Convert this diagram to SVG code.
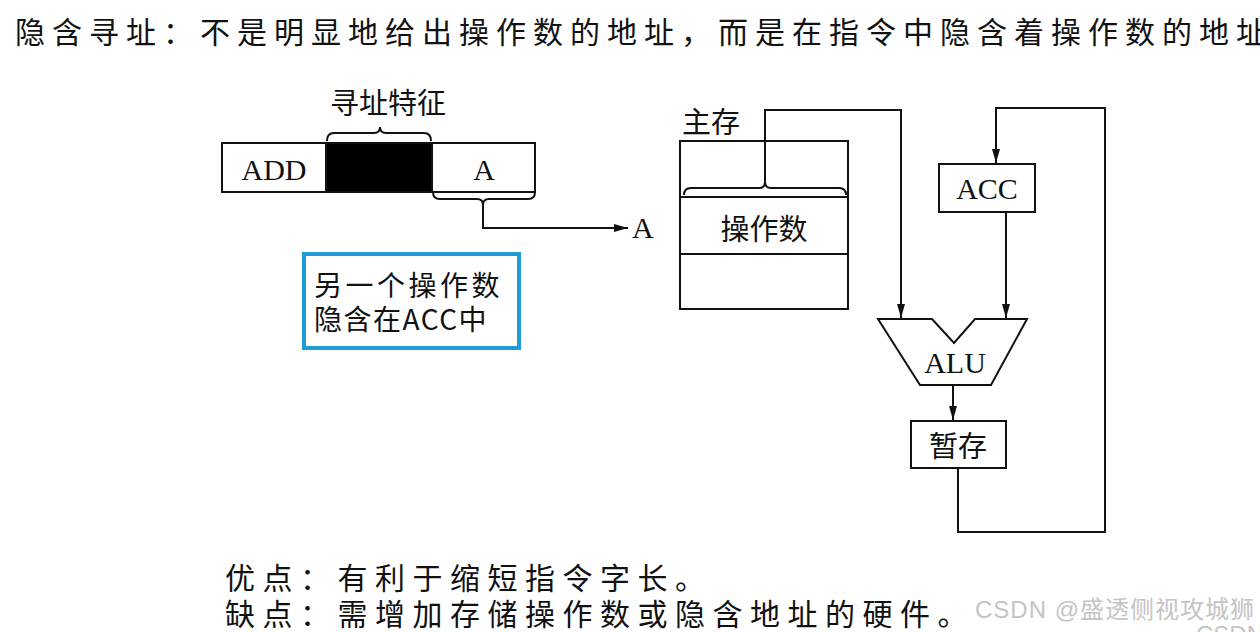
<svg xmlns="http://www.w3.org/2000/svg" width="1260" height="632" viewBox="0 0 1260 632">
<style>
.cn{font-family:"Noto Sans CJK SC","Noto Sans",sans-serif;fill:#111}
.big{font-size:30px;letter-spacing:7.5px}
.lbl{font-size:29px}
.en{font-family:"Liberation Serif",serif;font-size:30px;fill:#111}
.box{fill:#fff;stroke:#111;stroke-width:2}
.ln{fill:none;stroke:#111;stroke-width:2}
.wm{font-family:"Liberation Sans","Noto Sans CJK SC",sans-serif;font-size:24px;fill:#c4c4c4}
</style>
<defs>
<marker id="ah" markerWidth="14" markerHeight="8" refX="14" refY="4" orient="auto" markerUnits="userSpaceOnUse">
<path d="M0,0 L14,4 L0,8 Z" fill="#111"/>
</marker>
</defs>
<rect width="1260" height="632" fill="#fff"/>
<text class="cn big" x="15" y="43" style="letter-spacing:7px">隐含寻址：不是明显地给出操作数的地址，而是在指令中隐含着操作数的地址</text>

<g id="instr">
<rect class="box" x="222" y="143" width="104" height="49"/>
<rect x="326" y="143" width="106" height="49" fill="#000" stroke="#111" stroke-width="2"/>
<rect class="box" x="432" y="143" width="103" height="49"/>
<text class="en" x="274" y="180" text-anchor="middle">ADD</text>
<text class="en" x="484" y="180" text-anchor="middle">A</text>
<path class="ln" d="M327,141 Q327,133 334,133 L374,133 Q380,133 380,127 Q380,133 386,133 L424,133 Q431,133 431,141"/>
<text class="cn lbl" x="388" y="114" text-anchor="middle">寻址特征</text>
<path class="ln" d="M433,192 Q433,199 440,199 L477,199 Q483,199 483,205 Q483,199 489,199 L528,199 Q535,199 535,192"/>
</g>

<g id="memory">
<text class="cn lbl" x="682" y="133">主存</text>
<rect class="box" x="680" y="141" width="168" height="168"/>
<line class="ln" x1="680" y1="197" x2="848" y2="197"/>
<line class="ln" x1="680" y1="254" x2="848" y2="254"/>
<path class="ln" d="M684,195 Q684,188 691,188 L759,188 Q765,188 765,182 Q765,188 771,188 L839,188 Q846,188 846,195"/>
<text class="cn lbl" x="764" y="240" text-anchor="middle">操作数</text>
</g>

<g id="acc">
<rect class="box" x="939" y="164" width="96" height="48"/>
<text class="en" x="987" y="199" text-anchor="middle">ACC</text>
</g>

<g id="alu">
<path class="box" d="M878,319 L932,319 L954,343 L975,319 L1027,319 L991,385 L920,385 Z"/>
<text class="en" x="955" y="373" text-anchor="middle">ALU</text>
</g>

<g id="temp">
<rect class="box" x="911" y="421" width="95" height="47"/>
<text class="cn lbl" x="958" y="457" text-anchor="middle">暂存</text>
</g>

<g id="note">
<rect x="304" y="254" width="215" height="94" fill="#fff" stroke="#1f9bd6" stroke-width="4"/>
<text class="cn" x="314" y="296" font-size="28" letter-spacing="3.5">另一个操作数</text>
<text class="cn" x="314" y="330" font-size="28" letter-spacing="1.5">隐含在ACC中</text>
</g>

<g id="connectors">
<path class="ln" d="M483,205 L483,228 L628,228" marker-end="url(#ah)"/>
<text class="en" x="632" y="238" font-size="26">A</text>
<path class="ln" d="M765,182 L765,110 L901,110 L901,318" marker-end="url(#ah)"/>
<path class="ln" d="M1006,212 L1006,318" marker-end="url(#ah)"/>
<path class="ln" d="M958,468 L958,532 L1105,532 L1105,108 L996,108 L996,163" marker-end="url(#ah)"/>
<path class="ln" d="M953,385 L953,420" marker-end="url(#ah)"/>
</g>

<text class="cn big" x="225" y="589">优点：有利于缩短指令字长。</text>
<text class="cn big" x="225" y="625">缺点：需增加存储操作数或隐含地址的硬件。</text>
<text class="wm" x="975" y="618" letter-spacing="1">CSDN @盛透侧视攻城狮</text>
<text class="wm" x="1196" y="643" font-size="20">CSDN @</text>
</svg>
